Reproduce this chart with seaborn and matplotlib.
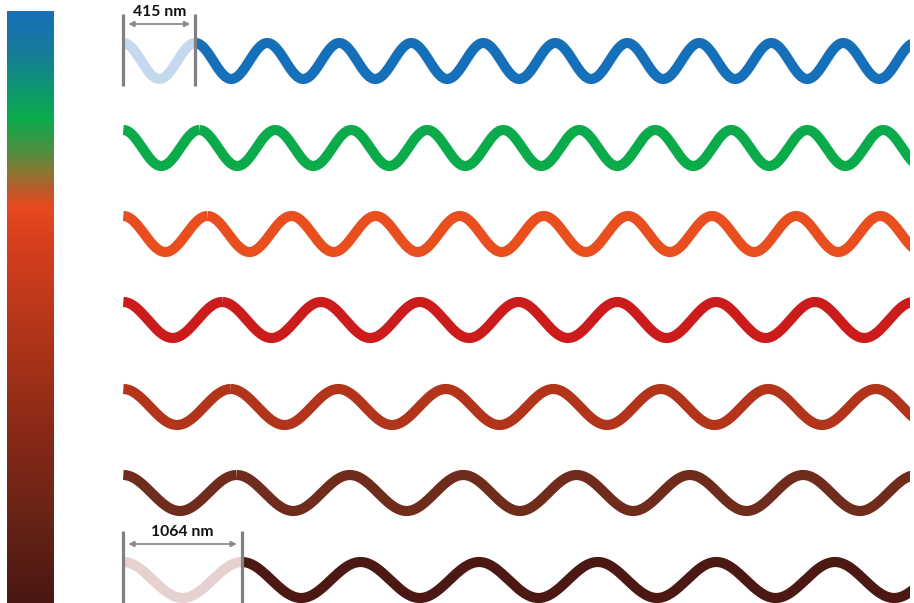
import numpy as np
import pandas as pd
import matplotlib
matplotlib.use("Agg")
import matplotlib.pyplot as plt
from matplotlib.colors import LinearSegmentedColormap
from matplotlib.patches import Rectangle
import seaborn as sns

sns.set_theme(style="white")
plt.rcParams['font.family'] = ['Lato', 'DejaVu Sans']

# ---- data ----
wave_colors = ["#1570b9", "#0bab4b", "#e94e1f", "#cc1b1b", "#b2341b", "#6f2c1c", "#4c1813"]
wave_periods = [72.0, 76.0, 84.1, 98.8, 107.5, 113.3, 118.6]   # px per wavelength
wave_centers = [61, 148, 234, 320, 407, 493, 580]
wave_amp = 18
wave_start = 123.3
wave_end = 909.5

faded_rows = [0, 6]
faded_colors = ["#c5d9ee", "#e5d2d0"]
dim_labels = ["415 nm", "1064 nm"]

grad_pos = [0.0, 0.06, 0.12, 0.18, 0.235, 0.27, 0.30, 0.33, 0.38, 0.55, 0.70, 0.85, 1.0]
grad_cols = ["#1870b8", "#167a9e", "#0f9276", "#0bab4b", "#4f8f41", "#8a7833",
             "#bb5a2b", "#e84a20", "#d9401d", "#b03519", "#8c2a17", "#6a2416", "#4a1713"]

W, H = 914, 603
fig = plt.figure(figsize=(W / 100, H / 100), dpi=100)
ax = fig.add_axes([0, 0, 1, 1])
ax.set_xlim(0, W)
ax.set_ylim(H, 0)
ax.axis("off")

# gradient bar
cmap = LinearSegmentedColormap.from_list("spec", list(zip(grad_pos, grad_cols)))
grad = np.linspace(0, 1, 400).reshape(-1, 1)
ax.imshow(grad, cmap=cmap, aspect="auto", extent=[6.5, 53, 603, 11.3],
          interpolation="bilinear", zorder=1)

clip = Rectangle((wave_start, 0), wave_end - wave_start, H, transform=ax.transData)

lw = 7.3
for i, (col, per, yc) in enumerate(zip(wave_colors, wave_periods, wave_centers)):
    c1 = col
    if i in faded_rows:
        c1 = faded_colors[faded_rows.index(i)]
    x1 = np.linspace(wave_start, wave_start + per, 200)
    y1 = yc - wave_amp * np.cos(2 * np.pi * (x1 - wave_start) / per)
    x2 = np.linspace(wave_start + per, wave_end + 15, 1500)
    y2 = yc - wave_amp * np.cos(2 * np.pi * (x2 - wave_start) / per)
    for xs, ys, cc in ((x1, y1, c1), (x2, y2, col)):
        n0 = len(ax.lines)
        sns.lineplot(x=xs, y=ys, color=cc, linewidth=lw, ax=ax, sort=False,
                     solid_capstyle="butt", zorder=3)
        for ln in ax.lines[n0:]:
            ln.set_clip_path(clip)

# dimension markers
dims = [(0, 13.5, 86, 24, 12.5), (6, 530.5, 603, 544, 532)]
for k, (row, ytop, ybot, yarr, ytxt) in enumerate(dims):
    per = wave_periods[row]
    xa, xb = wave_start, wave_start + per
    for xv in (xa, xb):
        ax.plot([xv, xv], [ytop, ybot], color="#808080", linewidth=2.3,
                solid_capstyle="butt", zorder=4)
    ax.annotate("", xy=(xa + 5, yarr), xytext=(xb - 5, yarr),
                arrowprops=dict(arrowstyle="<|-|>", color="#8a8a8a", lw=1.3,
                                mutation_scale=8, shrinkA=0, shrinkB=0), zorder=4)
    ax.text((xa + xb) / 2, ytxt, dim_labels[k], ha="center", va="center",
            fontsize=11.3, fontweight="bold", color="#111111", zorder=5)

fig.savefig("out.png", dpi=100, facecolor="white")
